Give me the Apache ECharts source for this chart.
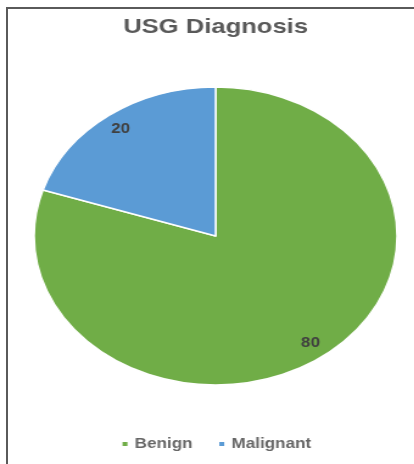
<!DOCTYPE html>
<html>
<head>
<meta charset="utf-8">
<script src="https://cdn.jsdelivr.net/npm/echarts@6/dist/echarts.min.js"></script>
<style>
  html, body { margin: 0; padding: 0; background: #fff; overflow: hidden; width: 414px; height: 464px; }
  #frame { position: absolute; left: 6px; top: 7px; width: 420px; height: 470px;
           border-left: 2px solid #5a5a5a; border-top: 2px solid #5a5a5a; box-sizing: border-box; }
  #chart { position: absolute; left: 0; top: 0; width: 354px; height: 464px;
           transform: scaleX(1.2181); transform-origin: 0 0; }
</style>
</head>
<body>
<div id="frame"></div>
<div id="chart"></div>
<script>
const titleText = 'USG Diagnosis';
const categories = ['Benign', 'Malignant'];
const values = [80, 20];
const colors = ['#70AD47', '#5B9BD5'];

const pieData = categories.map((c, i) => ({ name: c, value: values[i], itemStyle: { color: colors[i] } }));

const chart = echarts.init(document.getElementById('chart'), null, { renderer: 'canvas' });
chart.setOption({
  animation: false,
  title: {
    text: titleText,
    left: 'center',
    top: 12,
    textStyle: { fontFamily: 'Liberation Sans', fontSize: 21, fontWeight: 'bold', color: '#595959' }
  },
  legend: {
    data: categories,
    left: 'center',
    top: 432,
    icon: 'rect',
    itemWidth: 6,
    itemHeight: 6,
    itemGap: 20,
    textStyle: { fontFamily: 'Liberation Sans', fontSize: 14, fontWeight: 'bold', color: '#666666' }
  },
  series: [
    {
      type: 'pie',
      center: ['50%', 236],
      radius: 149,
      startAngle: 90,
      clockwise: true,
      label: { show: false },
      labelLine: { show: false },
      itemStyle: { borderColor: '#ffffff', borderWidth: 1.5 },
      emphasis: { disabled: true },
      data: pieData
    },
    {
      type: 'pie',
      center: ['50%', 236],
      radius: [110, 149],
      startAngle: 90,
      clockwise: true,
      silent: true,
      legendHoverLink: false,
      itemStyle: { color: 'rgba(0,0,0,0)' },
      label: {
        show: true,
        position: 'inside',
        formatter: '{c}',
        fontFamily: 'Liberation Sans',
        fontSize: 14,
        fontWeight: 'bold',
        color: '#404040'
      },
      labelLine: { show: false },
      emphasis: { disabled: true },
      data: categories.map((c, i) => ({ name: c, value: values[i] }))
    }
  ]
});
</script>
</body>
</html>
